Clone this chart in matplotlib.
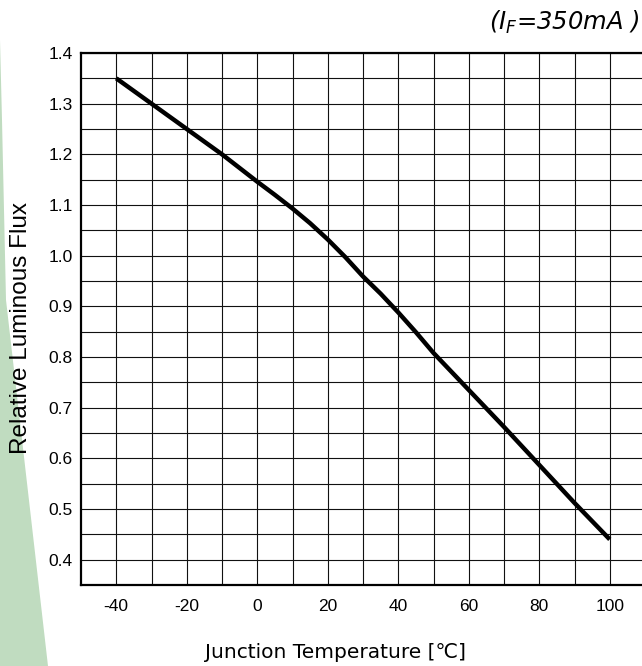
import numpy as np
import matplotlib.pyplot as plt
from matplotlib.patches import Polygon

# ---------------------------------------------------------------------------
# Data (I_F = 350 mA)
# ---------------------------------------------------------------------------
temperature = [-40, -30, -20, -10, 0, 5, 10, 15, 20, 25, 30, 35, 40, 45, 50,
               60, 70, 80, 90, 100]
rel_flux = [1.35, 1.30, 1.25, 1.20, 1.146, 1.12, 1.093, 1.064, 1.032, 0.997,
            0.959, 0.925, 0.888, 0.849, 0.808, 0.735, 0.662, 0.587, 0.512, 0.44]

x_ticks = [-40, -20, 0, 20, 40, 60, 80, 100]
y_ticks = [0.4, 0.5, 0.6, 0.7, 0.8, 0.9, 1.0, 1.1, 1.2, 1.3, 1.4]
y_tick_labels = ["0.4", "0.5", "0.6", "0.7", "0.8", "0.9", "1.0", "1.1", "1.2", "1.3", "1.4"]

W, H = 642, 666
fig = plt.figure(figsize=(W / 100, H / 100), dpi=100)

# light green watermark band on the left
band = Polygon([(0, 1 - 40 / H), (2 / W, 1 - 120 / H), (6 / W, 1 - 300 / H),
                (48 / W, 0), (0, 0)],
               closed=True, transform=fig.transFigure, facecolor="#c0dcc0",
               edgecolor="none", zorder=0)
fig.patches.append(band)

left, right, top, bottom = 81, 645, 53, 585
ax = fig.add_axes([left / W, 1 - bottom / H, (right - left) / W, (bottom - top) / H])
ax.set_facecolor("white")

ax.set_xlim(-50, 110)
ax.set_ylim(0.35, 1.4)

# grid every 10 degC and every 0.05
for gx in np.arange(-40, 111, 10):
    ax.axvline(gx, color="#111111", lw=0.8, zorder=1)
for gy in np.arange(0.35, 1.4001, 0.05):
    ax.axhline(gy, color="#111111", lw=0.8, zorder=1)

ax.plot(temperature, rel_flux, color="black", lw=3.2, solid_capstyle="butt",
        solid_joinstyle="round", zorder=3)

ax.set_xticks(x_ticks)
ax.set_xticklabels([str(t) for t in x_ticks])
ax.set_yticks(y_ticks)
ax.set_yticklabels(y_tick_labels)
ax.tick_params(length=0, pad=6)
for lab in ax.get_xticklabels() + ax.get_yticklabels():
    lab.set_family(["Liberation Sans", "DejaVu Sans"])
    lab.set_fontsize(12.5)
ax.tick_params(axis="x", pad=10)

for side in ["left", "bottom", "top"]:
    ax.spines[side].set_linewidth(1.6)
ax.spines["right"].set_visible(False)

fig.text(21 / W, 1 - 328 / H, "Relative Luminous Flux", rotation=90,
         ha="center", va="center", fontsize=17.5, family=["Liberation Sans", "DejaVu Sans"])
fig.text(336 / W, 1 - 652 / H, "Junction Temperature [\u2103]",
         ha="center", va="center", fontsize=14.5,
         family=["DejaVu Sans", "Noto Sans CJK SC"])
fig.text(640 / W, 1 - 22 / H, "(" + r"$I_F$" + "=350mA )", ha="right", va="center",
         fontsize=17.5, style="italic", family="DejaVu Sans")

fig.savefig("out.png", dpi=100)
